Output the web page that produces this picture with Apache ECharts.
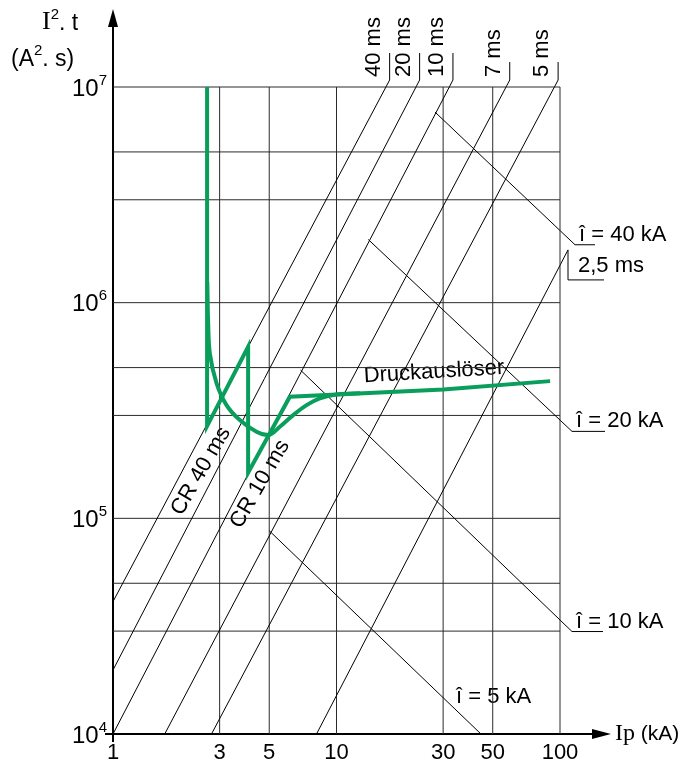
<!DOCTYPE html>
<html>
<head>
<meta charset="utf-8">
<script src="https://cdn.jsdelivr.net/npm/echarts@6/dist/echarts.min.js"></script>
<style>
  html, body { margin: 0; padding: 0; background: #fff; }
  #chart { width: 695px; height: 763px; }
</style>
</head>
<body>
<div id="chart"></div>
<script>
// ---- data: Ip in kA, I²t in A²s ----
const xTickValues = [1, 3, 5, 10, 30, 50, 100];
const xGridValues = [3, 5, 10, 30, 50, 100];
const yGridValues = [3e4, 5e4, 1e5, 3e5, 5e5, 1e6, 3e6, 5e6, 1e7];

// constant-time lines (lower end, upper end)
const timeLabels = ['40 ms', '20 ms', '10 ms', '7 ms', '5 ms'];
const timeLow  = [[1, 4.11e4], [1, 1.98e4], [1, 1e4], [1.704, 1e4], [2.759, 1e4]];
const timeHigh = [[16.64, 1e7], [22.68, 1e7], [31.97, 1e7], [57.36, 1e7], [94.4, 1e7]];
const shortTimeLabel = '2,5 ms';
const shortTimeLine = [[8.14, 1e4], [100, 1.49e6]];

// peak let-through current lines
const peakLabels = ['î = 40 kA', 'î = 20 kA', 'î = 10 kA', 'î = 5 kA'];
const peakStart = [[27.6, 7.65e6], [13.87, 1.963e6], [6.906, 4.866e5], [5.0, 8.76e4]];
const peakEnd   = [[100, 2.16e6], [100, 2.855e5], [100, 3.378e4], [44.3, 1e4]];

// breaker characteristic (green)
const crZigzag = [[2.636, 1e7], [2.636, 2.677e5], [4.023, 6.242e5], [4.023, 1.627e5], [6.184, 3.66e5]];
const druckLine = [[6.184, 3.66e5], [30.05, 3.961e5], [90.3, 4.327e5]];
const crCurve = [[2.64, 1.25e6], [2.65, 1.027e6], [2.663, 8.3e5], [2.711, 5.83e5], [2.905, 4.24e5],
                 [3.22, 3.35e5], [3.693, 2.855e5], [4.387, 2.519e5], [4.945, 2.432e5], [5.579, 2.658e5],
                 [6.399, 3.011e5], [7.346, 3.35e5], [8.428, 3.599e5], [10.0, 3.75e5], [12.73, 3.8e5]];

// ---- styling ----
const GREEN = '#0a9e5c';
const INK = '#000';
const RULE = '#2b2b2b';
const SANS = '"Liberation Sans", Arial, Helvetica, sans-serif';
const SERIF = '"Liberation Serif", "Times New Roman", serif';
const FS = 22;

const series = [];
function addLine(data, color, width, extra) {
  series.push(Object.assign({
    type: 'line', data: data, symbol: 'none', silent: true, animation: false,
    clip: false, lineStyle: { color: color, width: width, cap: 'butt', join: 'miter' }
  }, extra || {}));
}

xGridValues.forEach(v => addLine([[v, 1e4], [v, 1e7]], RULE, 1));
yGridValues.forEach(v => addLine([[1, v], [100, v]], RULE, 1));
timeLow.forEach((p, i) => addLine([p, timeHigh[i]], INK, 1));
addLine(shortTimeLine, INK, 1);
peakStart.forEach((p, i) => addLine([p, peakEnd[i]], INK, 1));
addLine(crCurve, GREEN, 4, { smooth: 0.35, z: 5 });
addLine(crZigzag.concat(druckLine.slice(1)), GREEN, 4, { z: 6 });

const chart = echarts.init(document.getElementById('chart'), null, { renderer: 'canvas' });
chart.setOption({
  animation: false,
  backgroundColor: '#fff',
  grid: { left: 113, top: 87, right: 135, bottom: 29, containLabel: false },
  xAxis: {
    type: 'log', logBase: 10, min: 1, max: 100,
    axisLine: { show: false }, axisTick: { show: false },
    axisLabel: { show: false }, splitLine: { show: false }
  },
  yAxis: {
    type: 'log', logBase: 10, min: 1e4, max: 1e7,
    axisLine: { show: false }, axisTick: { show: false }, splitLine: { show: false },
    axisLabel: {
      margin: 6,
      formatter: v => '{b|10}{s|' + Math.round(Math.log10(v)) + '}',
      rich: {
        b: { fontSize: 24, fontFamily: SANS, color: INK, lineHeight: 28, verticalAlign: 'bottom' },
        s: { fontSize: 15, fontFamily: SANS, color: INK, lineHeight: 15, verticalAlign: 'top' }
      }
    }
  },
  series: series
});

// ---- axes, leaders and annotations ----
const px = p => chart.convertToPixel({ gridIndex: 0 }, p);
const g = [];
function seg(x1, y1, x2, y2, w) {
  g.push({ type: 'line', silent: true, shape: { x1, y1, x2, y2 }, style: { stroke: INK, lineWidth: w || 1 } });
}
function txt(x, y, text, opts) {
  const o = opts || {};
  g.push({
    type: 'text', silent: true, x: x, y: y, rotation: o.rotation || 0,
    style: Object.assign({
      text: text, fill: INK, fontSize: o.fontSize || FS, fontFamily: SANS,
      align: o.align || 'left', verticalAlign: o.verticalAlign || 'middle'
    }, o.rich ? { rich: o.rich } : {})
  });
}

const origin = px([1, 1e4]);
// y axis with arrow
seg(origin[0], origin[1] + 8, origin[0], 24, 2);
g.push({ type: 'polygon', silent: true, shape: { points: [[origin[0], 9], [origin[0] - 5, 27], [origin[0] + 5, 27]] }, style: { fill: INK } });
// x axis with arrow
seg(origin[0] - 8, origin[1], 596, origin[1], 2);
g.push({ type: 'polygon', silent: true, shape: { points: [[611, origin[1]], [592, origin[1] - 5], [592, origin[1] + 5]] }, style: { fill: INK } });

// x tick labels
xTickValues.forEach(v => {
  const p = px([v, 1e4]);
  txt(p[0], p[1] + 8, String(v), { align: 'center', verticalAlign: 'top' });
});

// axis titles
const supRich = {
  i: { fontSize: 26, fontFamily: SERIF, color: INK, lineHeight: 28, verticalAlign: 'bottom' },
  n: { fontSize: 23, fontFamily: SANS, color: INK, lineHeight: 28, verticalAlign: 'bottom' },
  s: { fontSize: 15, fontFamily: SANS, color: INK, lineHeight: 15, verticalAlign: 'top' }
};
txt(42, 21, '{i|I}{s|2}{n|. t}', { rich: supRich });
txt(11, 57, '{n|(A}{s|2}{n|. s)}', { rich: supRich });
txt(615, 734, '{i|Ip}{n| (kA)}', { rich: {
  i: { fontSize: 24, fontFamily: SERIF, color: INK },
  n: { fontSize: 21, fontFamily: SANS, color: INK }
} });

// leaders and labels of the time lines (rotated, above the frame)
const leaderTop = [53, 53, 53, 62, 62];
timeLow.forEach((lo, i) => {
  const a = px(lo), b = px(timeHigh[i]);
  const k = (b[1] - 80) / (a[1] - b[1]);
  const kx = b[0] + (b[0] - a[0]) * k;
  seg(b[0], b[1], kx, 80);
  seg(kx, 80, kx, leaderTop[i]);
  txt(kx - 5, 77, timeLabels[i], { rotation: Math.PI / 2, align: 'left', verticalAlign: 'bottom' });
});
(function () {
  const a = px(shortTimeLine[0]), b = px(shortTimeLine[1]);
  const dx = 8, kx = b[0] + dx, ky = b[1] - (a[1] - b[1]) / (b[0] - a[0]) * dx;
  seg(b[0], b[1], kx, ky);
  seg(kx, ky, kx, ky + 30);
  seg(kx, ky + 30, kx + 36, ky + 30);
  txt(kx + 10, ky + 16, shortTimeLabel);
})();

// leaders and labels of the peak-current lines
const underline = [20, 33, 31];
peakStart.forEach((s, i) => {
  const a = px(s), b = px(peakEnd[i]);
  if (i < 3) {
    const dx = i === 0 ? 15 : 12;
    const kx = b[0] + dx, ky = b[1] + (b[1] - a[1]) / (b[0] - a[0]) * dx;
    seg(b[0], b[1], kx, ky);
    seg(kx, ky, kx + underline[i], ky);
    txt(kx + 4, ky - 10, peakLabels[i]);
  } else {
    txt(b[0] - 25, b[1] - 37, peakLabels[i]);
  }
});

// curve names
txt(201, 471, 'CR 40 ms', { rotation: 60 * Math.PI / 180, align: 'center' });
txt(260, 484, 'CR 10 ms', { rotation: 60 * Math.PI / 180, align: 'center' });
txt(434, 372, 'Druckauslöser', { rotation: 0.06, align: 'center' });

chart.setOption({ graphic: g });
</script>
</body>
</html>
